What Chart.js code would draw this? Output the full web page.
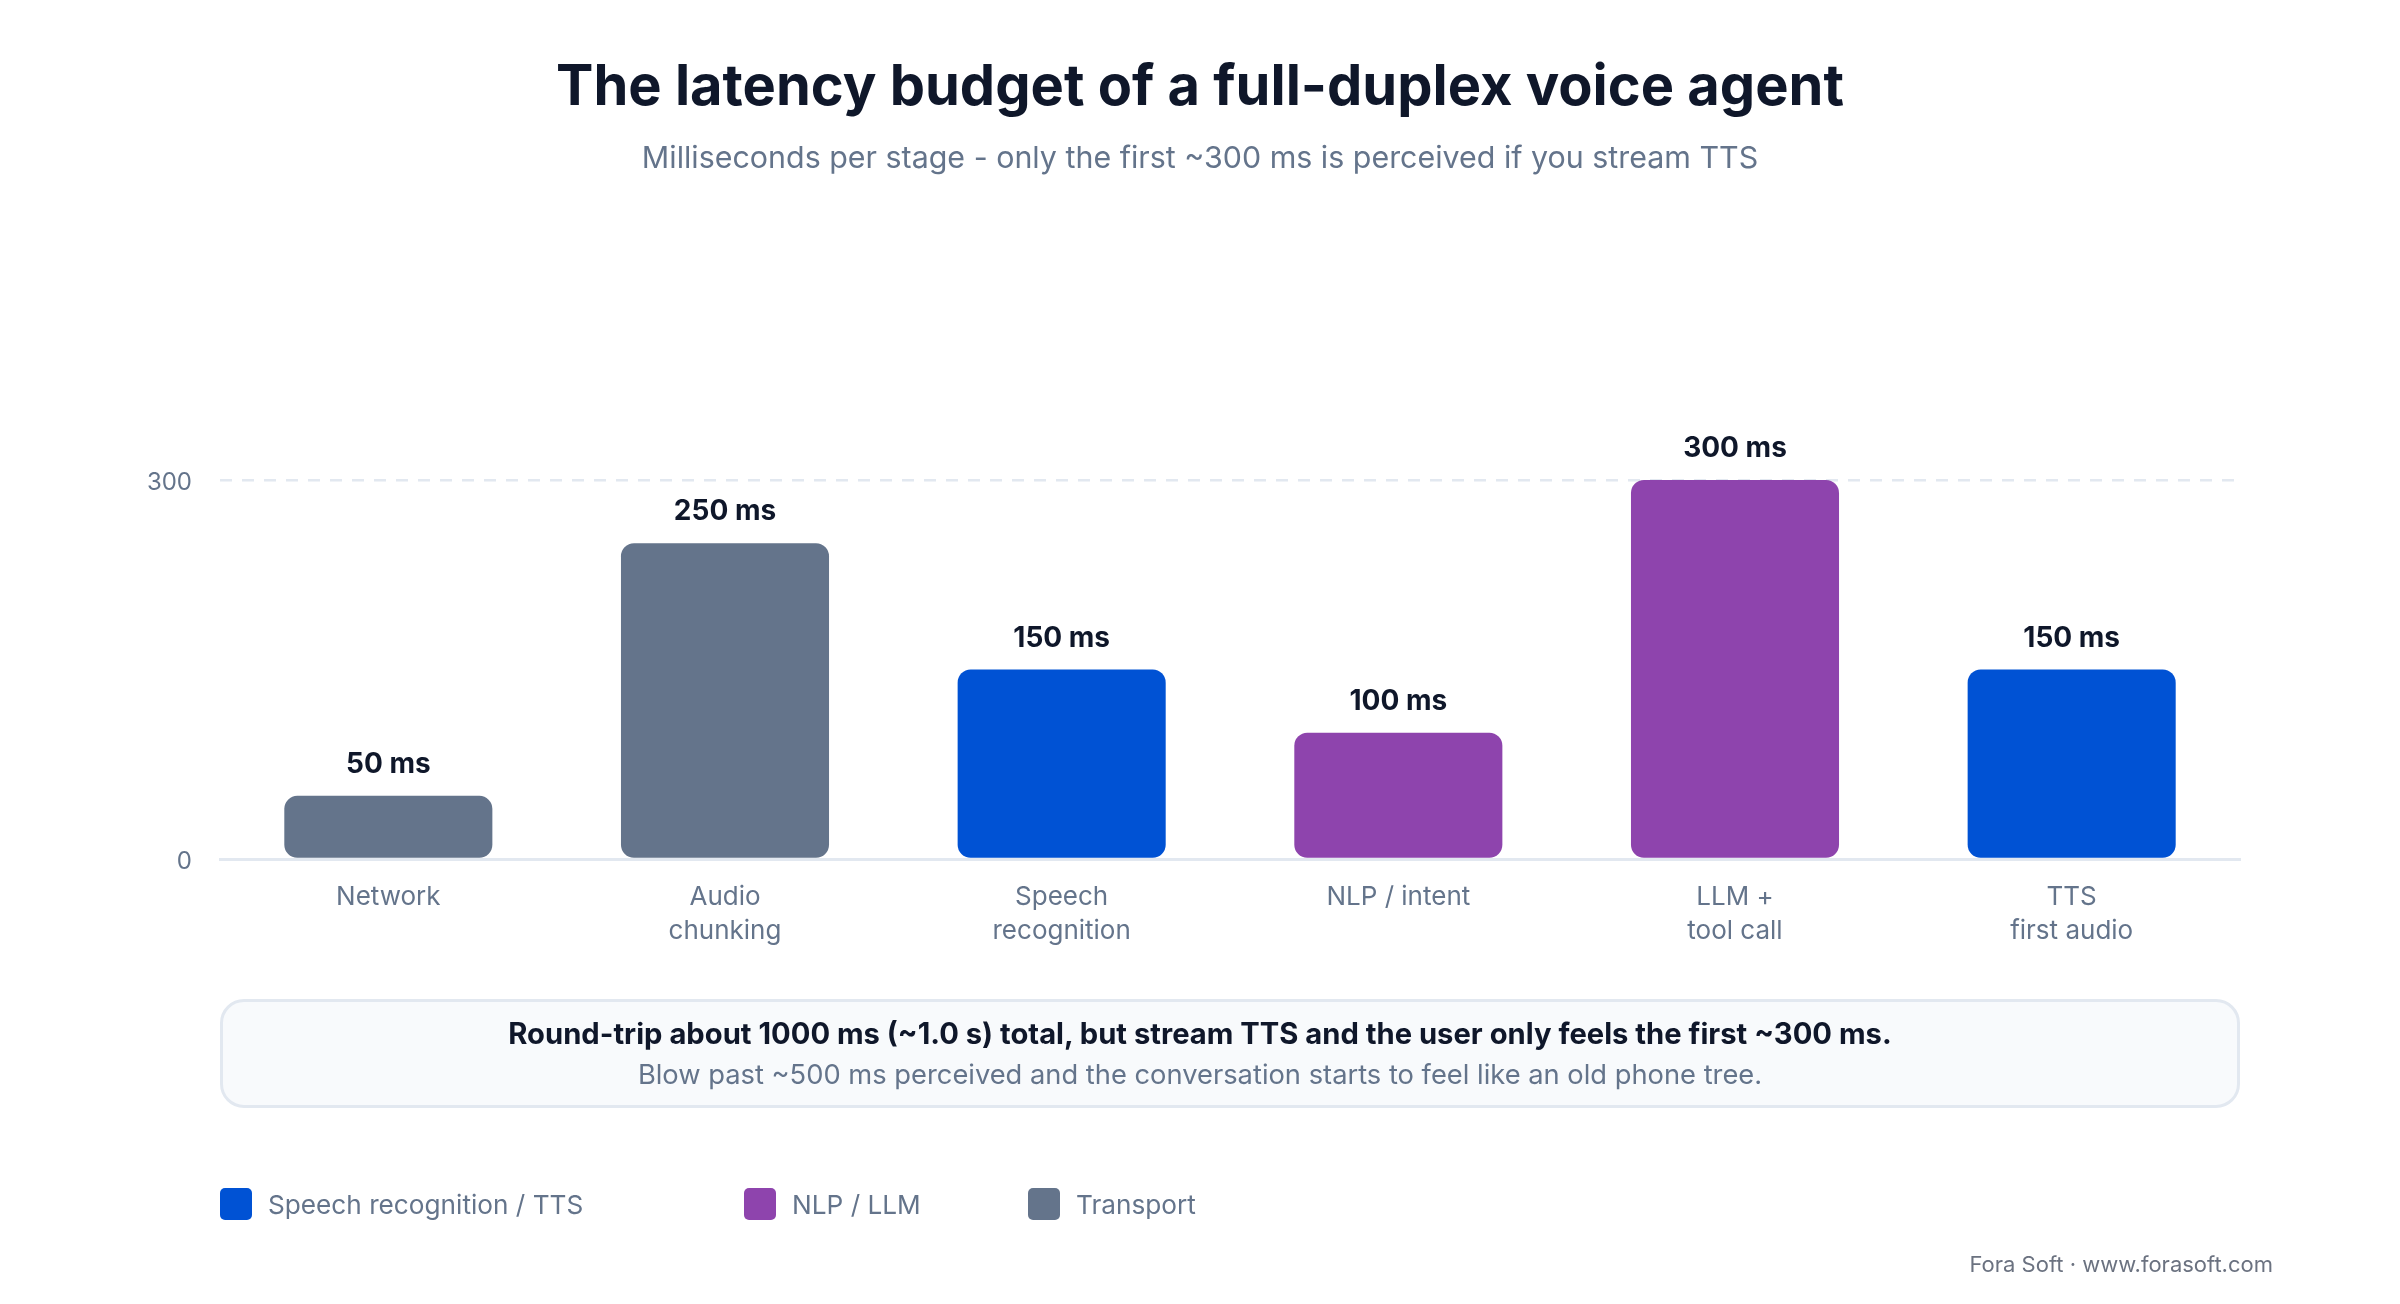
<!DOCTYPE html>
<html>
<head>
<meta charset="utf-8">
<script src="https://cdn.jsdelivr.net/npm/chart.js@4/dist/chart.umd.min.js"></script>
<style>
  html, body { margin: 0; padding: 0; background: #ffffff; }
  body { width: 2400px; height: 1304px; position: relative; overflow: hidden; font-family: Inter, "Noto Sans", sans-serif; }
  #chart { position: absolute; left: 0; top: 0; }
  .abs { position: absolute; white-space: nowrap; line-height: 1; }
  #title { left: 0; width: 2400px; top: 57px; text-align: center; font-size: 56px; font-weight: 700; color: #0f172a; }
  #subtitle { left: 0; width: 2400px; top: 142px; text-align: center; font-size: 30.4px; font-weight: 400; color: #64748b; }
  #note { position: absolute; left: 220px; top: 999px; width: 2020px; height: 109px; box-sizing: border-box;
          background: #f8fafc; border: 3px solid #e2e8f0; border-radius: 24px; }
  #note1 { left: 0; width: 2400px; top: 1019px; text-align: center; font-size: 29.2px; font-weight: 700; color: #0f172a; }
  #note2 { left: 0; width: 2400px; top: 1061px; text-align: center; font-size: 27.3px; font-weight: 400; color: #64748b; }
  .lg-sw { position: absolute; top: 1188px; width: 32px; height: 32px; border-radius: 5px; }
  .lg-tx { position: absolute; top: 1192px; font-size: 26.2px; line-height: 1; color: #64748b; white-space: nowrap; }
  #footer { right: 127px; top: 1253px; font-size: 22px; color: #6b7280; }
</style>
</head>
<body>
<canvas id="chart" width="2400" height="1304"></canvas>
<div id="title" class="abs">The latency budget of a full-duplex voice agent</div>
<div id="subtitle" class="abs">Milliseconds per stage - only the first ~300 ms is perceived if you stream TTS</div>
<div id="note"></div>
<div id="note1" class="abs">Round-trip about 1000 ms (~1.0 s) total, but stream TTS and the user only feels the first ~300 ms.</div>
<div id="note2" class="abs">Blow past ~500 ms perceived and the conversation starts to feel like an old phone tree.</div>
<div id="legend"></div>
<div id="footer" class="abs">Fora Soft · www.forasoft.com</div>
<script>
// ---- data ----
const categories = [
  ['Network'],
  ['Audio', 'chunking'],
  ['Speech', 'recognition'],
  ['NLP / intent'],
  ['LLM +', 'tool call'],
  ['TTS', 'first audio']
];
const valuesMs = [50, 250, 150, 100, 300, 150];
const stageGroup = [2, 2, 0, 1, 1, 0];
const groupNames = ['Speech recognition / TTS', 'NLP / LLM', 'Transport'];
const groupColors = ['#0052d4', '#8e44ad', '#64748b'];
const yTickValues = [0, 300];
const valueSuffix = ' ms';

// ---- layout (styles only) ----
const legendLeft = [220, 744, 1028];

// legend
const lg = document.getElementById('legend');
groupNames.forEach((name, i) => {
  const sw = document.createElement('div');
  sw.className = 'lg-sw';
  sw.style.left = legendLeft[i] + 'px';
  sw.style.background = groupColors[i];
  lg.appendChild(sw);
  const tx = document.createElement('div');
  tx.className = 'lg-tx';
  tx.style.left = (legendLeft[i] + 48) + 'px';
  tx.textContent = name;
  lg.appendChild(tx);
});

const valueLabels = {
  id: 'valueLabels',
  afterDatasetsDraw(chart) {
    const ctx = chart.ctx;
    const meta = chart.getDatasetMeta(0);
    ctx.save();
    ctx.font = '700 28px Inter, "Noto Sans", sans-serif';
    ctx.fillStyle = '#0f172a';
    ctx.textAlign = 'center';
    ctx.textBaseline = 'alphabetic';
    meta.data.forEach((bar, i) => {
      ctx.fillText(valuesMs[i] + valueSuffix, bar.x, bar.y - 23);
    });
    ctx.restore();
  }
};

function draw() {
  new Chart(document.getElementById('chart'), {
    type: 'bar',
    data: {
      labels: categories,
      datasets: [{
        data: valuesMs,
        backgroundColor: stageGroup.map(g => groupColors[g]),
        borderRadius: 13,
        borderSkipped: false,
        categoryPercentage: 1,
        barPercentage: 0.618
      }]
    },
    options: {
      responsive: false,
      devicePixelRatio: 1,
      animation: false,
      layout: { padding: { top: 480, left: 0, right: 160, bottom: 345 } },
      plugins: { legend: { display: false }, tooltip: { enabled: false }, title: { display: false } },
      scales: {
        x: {
          grid: { display: false, drawTicks: false },
          border: { display: true, color: '#e2e8f0', width: 3 },
          ticks: {
            color: '#64748b',
            padding: 21,
            maxRotation: 0,
            autoSkip: false,
            font: { family: 'Inter, "Noto Sans", sans-serif', size: 26, lineHeight: 1.3 }
          },
          afterFit(axis) { axis.height = 100; }
        },
        y: {
          min: 0,
          max: 300,
          afterBuildTicks(axis) { axis.ticks = yTickValues.map(v => ({ value: v })); },
          grid: {
            drawTicks: false,
            lineWidth: 2.5,
            color: c => (c.tick && c.tick.value === 300) ? '#e2e8f0' : 'rgba(0,0,0,0)'
          },
          border: { display: false, dash: [12, 10] },
          ticks: {
            color: '#64748b',
            padding: 28,
            labelOffset: 3,
            font: { family: 'Inter, "Noto Sans", sans-serif', size: 24 }
          },
          afterFit(axis) { axis.width = 220; }
        }
      }
    },
    plugins: [valueLabels]
  });
}

if (document.fonts && document.fonts.ready) {
  document.fonts.load('700 28px Inter').then(draw, draw);
} else {
  draw();
}
</script>
</body>
</html>
